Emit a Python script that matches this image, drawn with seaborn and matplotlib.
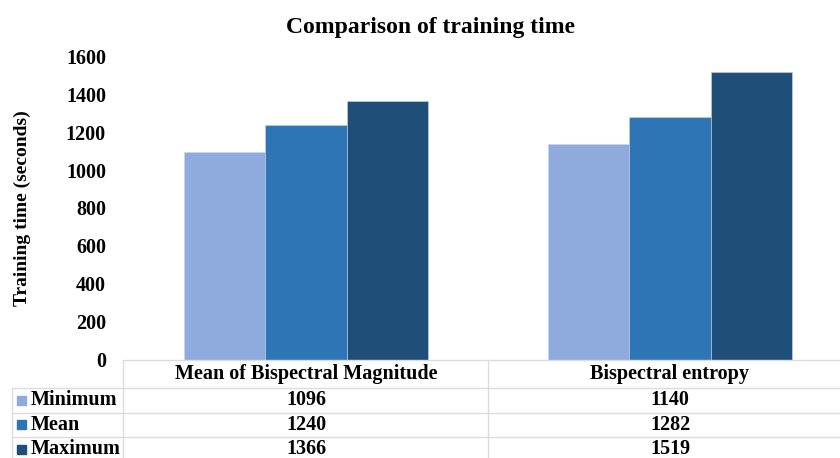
import matplotlib
matplotlib.use("Agg")
import matplotlib.pyplot as plt
import matplotlib.transforms as mtransforms
from matplotlib.lines import Line2D
from matplotlib.patches import Rectangle
import seaborn as sns
import pandas as pd

# data
features = ["Mean of Bispectral Magnitude", "Bispectral entropy"]
stats = ["Minimum", "Mean", "Maximum"]
minimum = [1096, 1140]
mean = [1240, 1282]
maximum = [1366, 1519]
yticks = [0, 200, 400, 600, 800, 1000, 1200, 1400, 1600]

colors = ["#8FAADC", "#2E75B6", "#1F4E79"]

df = pd.DataFrame({
    "Feature": features * 3,
    "Statistic": [s for s in stats for _ in features],
    "Time": minimum + mean + maximum,
})

sns.set_style("white")
plt.rcParams["font.family"] = ["Liberation Serif", "DejaVu Serif"]
plt.rcParams["font.weight"] = "bold"
plt.rcParams["text.color"] = "black"
plt.rcParams["ytick.color"] = "black"
plt.rcParams["axes.labelcolor"] = "black"

W, H = 840, 458
fig = plt.figure(figsize=(W / 100, H / 100), dpi=100)

def fy(py):
    # pixel row (from top) -> figure fraction
    return 1 - py / H

FS = 14.5

ax_left, ax_bottom, ax_top = 124, 359.5, 56.5
ax = fig.add_axes([ax_left / W, fy(ax_bottom), 1 - ax_left / W, (ax_bottom - ax_top) / H])

sns.barplot(data=df, x="Feature", y="Time", hue="Statistic", hue_order=stats,
            palette=colors, width=0.67, gap=0, saturation=1, legend=False,
            edgecolor="#C9D6EE", linewidth=0.4, ax=ax)

ax.set_xlim(-0.5, -0.5 + (W - ax_left) / 364)
ax.set_ylim(0, 1600)
ax.set_yticks(yticks)
ax.set_yticklabels([str(t) for t in yticks], fontsize=FS, fontweight="bold")
ax.tick_params(axis="y", length=0, pad=13)
ax.set_xticks([])
ax.set_xlabel("")
ax.set_ylabel("Training time (seconds)", fontsize=14, fontweight="bold")
ax.yaxis.set_label_coords(-(ax_left - 31) / (W - ax_left), 0.5)
sns.despine(ax=ax, left=True, bottom=True)

fig.text(0.513, fy(27), "Comparison of training time", ha="center", va="center",
         fontsize=17, fontweight="bold")

# data table under the plot
grid = "#DCDCDC"
row_lines = [360, 388, 412.5, 437]
for i, py in enumerate(row_lines):
    x0 = ax_left / W if i == 0 else 12 / W
    fig.add_artist(Line2D([x0, 1], [fy(py), fy(py)], transform=fig.transFigure,
                          color=grid, lw=1))
fig.add_artist(Line2D([12 / W, 12 / W], [fy(388), 0], transform=fig.transFigure,
                      color=grid, lw=1))
fig.add_artist(Line2D([123 / W, 123 / W], [fy(360), 0], transform=fig.transFigure,
                      color=grid, lw=1))

blend = mtransforms.blended_transform_factory(ax.transData, fig.transFigure)
for k in range(len(features) - 1):
    fig.add_artist(Line2D([k + 0.5, k + 0.5], [fy(360), 0], transform=blend,
                          color=grid, lw=1))

for k, feat in enumerate(features):
    fig.text(k, fy(374), feat, transform=blend, ha="center", va="center",
             fontsize=FS, fontweight="bold")

row_y = [400, 424.5, 449]
for s, vals, col, py in zip(stats, [minimum, mean, maximum], colors, row_y):
    fig.add_artist(Rectangle((17 / W, fy(py + 4.5)), 9 / W, 9 / H,
                             transform=fig.transFigure, color=col))
    fig.text(31 / W, fy(py), s, ha="left", va="center", fontsize=FS, fontweight="bold")
    for k, v in enumerate(vals):
        fig.text(k, fy(py), str(v), transform=blend, ha="center", va="center",
                 fontsize=FS, fontweight="bold")

fig.savefig("out.png", dpi=100)
